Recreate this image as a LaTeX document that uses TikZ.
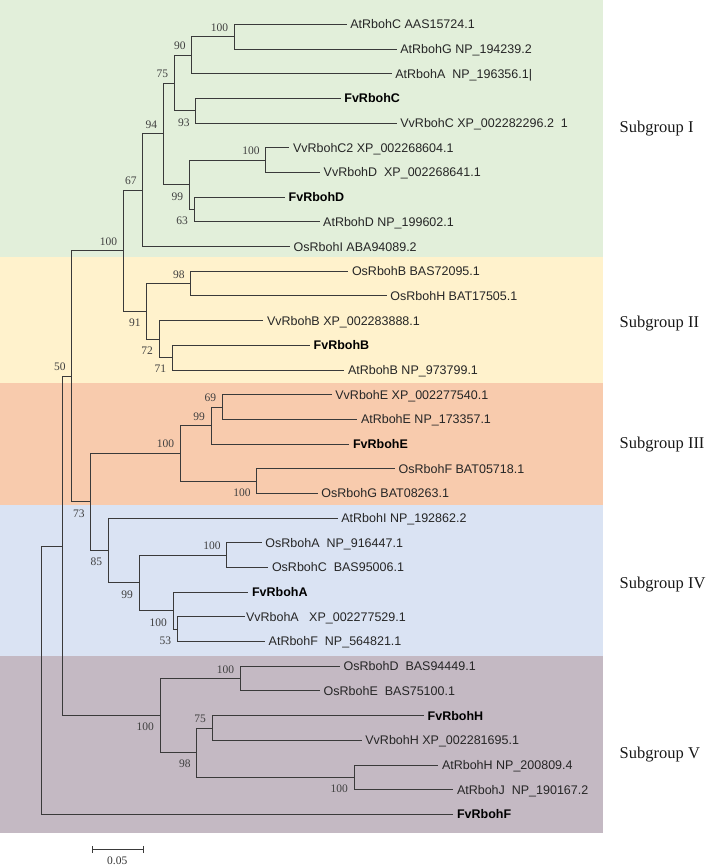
\documentclass[tikz,border=0pt]{standalone}
\usepackage{fontspec}
\setmainfont{Liberation Serif}
\setsansfont{Liberation Sans}
\usetikzlibrary{arrows.meta}
\definecolor{bgI}{HTML}{E2EFDA}
\definecolor{bgII}{HTML}{FFF2CC}
\definecolor{bgIII}{HTML}{F8CBAD}
\definecolor{bgIV}{HTML}{DAE3F3}
\definecolor{bgV}{HTML}{C4B9C3}
\definecolor{ink}{HTML}{3A3A3A}
\begin{document}
\begin{tikzpicture}[x=1pt,y=-1pt,
  branch/.style={draw=ink, line width=0.9pt},
  leaf/.style={font=\sffamily\fontsize{12.5}{14}\selectfont, text=black!85, anchor=west,
    inner xsep=3.5pt, inner ysep=0pt, text height=8.95pt, text depth=0pt},
  fvleaf/.style={leaf, font=\sffamily\bfseries\fontsize{12.5}{14}\selectfont, text=black},
  bootbase/.style={font=\fontsize{11.5}{13}\selectfont, text=black!75, anchor=east,
    inner sep=0pt, text height=7.6pt, text depth=0pt, xshift=-6pt},
  bootup/.style={bootbase, yshift=9.3pt},
  bootdown/.style={bootbase, yshift=-11.5pt},
  grouplabel/.style={font=\fontsize{16.5}{18}\selectfont, text=black!90, anchor=west,
    inner sep=0pt, text height=10.9pt, text depth=0pt}]
\useasboundingbox (0,0) rectangle (709,866);
% background bands
\fill[bgI]   (0,0)   rectangle (603,257);
\fill[bgII]  (0,257) rectangle (603,383);
\fill[bgIII] (0,383) rectangle (603,505);
\fill[bgIV]  (0,505) rectangle (603,656);
\fill[bgV]   (0,656) rectangle (603,833);
% leaves
\node[leaf]   (L0)  at (346.7,24.4)  {AtRbohC AAS15724.1};
\node[leaf]   (L1)  at (396.7,49.1)  {AtRbohG NP\_194239.2};
\node[leaf]   (L2)  at (391.7,73.8)  {AtRbohA~ NP\_196356.1|};
\node[fvleaf] (L3)  at (340.7,98.5)  {FvRbohC};
\node[leaf]   (L4)  at (396.7,123.1) {VvRbohC XP\_002282296.2~ 1};
\node[leaf]   (L5)  at (289.3,147.8) {VvRbohC2 XP\_002268604.1};
\node[leaf]   (L6)  at (320.0,172.5) {VvRbohD~ XP\_002268641.1};
\node[fvleaf] (L7)  at (285.0,197.2) {FvRbohD};
\node[leaf]   (L8)  at (319.5,221.9) {AtRbohD NP\_199602.1};
\node[leaf]   (L9)  at (290.0,246.6) {OsRbohI ABA94089.2};
\node[leaf]   (L10) at (348.3,271.3) {OsRbohB BAS72095.1};
\node[leaf]   (L11) at (386.7,295.9) {OsRbohH BAT17505.1};
\node[leaf]   (L12) at (263.3,320.6) {VvRbohB XP\_002283888.1};
\node[fvleaf] (L13) at (310.0,345.3) {FvRbohB};
\node[leaf]   (L14) at (344.3,370.0) {AtRbohB NP\_973799.1};
\node[leaf]   (L15) at (331.7,394.7) {VvRbohE XP\_002277540.1};
\node[leaf]   (L16) at (357.3,419.4) {AtRbohE NP\_173357.1};
\node[fvleaf] (L17) at (349.3,444.0) {FvRbohE};
\node[leaf]   (L18) at (395.0,468.7) {OsRbohF BAT05718.1};
\node[leaf]   (L19) at (317.7,493.4) {OsRbohG BAT08263.1};
\node[leaf]   (L20) at (337.7,518.1) {AtRbohI NP\_192862.2};
\node[leaf]   (L21) at (261.7,542.8) {OsRbohA~ NP\_916447.1};
\node[leaf]   (L22) at (268.3,567.5) {OsRbohC~ BAS95006.1};
\node[fvleaf] (L23) at (248.3,592.2) {FvRbohA};
\node[leaf, inner xsep=0.8pt] (L24) at (245.0,616.8) {VvRbohA~~ XP\_002277529.1};
\node[leaf]   (L25) at (265.0,641.5) {AtRbohF~ NP\_564821.1};
\node[leaf]   (L26) at (340.0,666.2) {OsRbohD~ BAS94449.1};
\node[leaf]   (L27) at (320.0,690.9) {OsRbohE~ BAS75100.1};
\node[fvleaf] (L28) at (424.0,715.6) {FvRbohH};
\node[leaf]   (L29) at (361.7,740.3) {VvRbohH XP\_002281695.1};
\node[leaf]   (L30) at (438.3,765.0) {AtRbohH NP\_200809.4};
\node[leaf]   (L31) at (453.3,789.6) {AtRbohJ~ NP\_190167.2};
\node[fvleaf] (L32) at (453.3,814.3) {FvRbohF};
% internal nodes
\coordinate (nCG)   at (234.3,36.75);
\coordinate (n90)   at (191.7,55.3);
\coordinate (n93)   at (195.7,110.8);
\coordinate (n75)   at (174.3,83.05);
\coordinate (nC2D)  at (265.7,160.15);
\coordinate (n63)   at (194.0,209.55);
\coordinate (n99a)  at (189.3,184.85);
\coordinate (n94)   at (163.3,133.95);
\coordinate (n67)   at (142.7,190.3);
\coordinate (n98)   at (190.7,283.6);
\coordinate (n71)   at (172.3,357.65);
\coordinate (n72)   at (159.0,339.1);
\coordinate (n91)   at (146.7,311.35);
\coordinate (n100c) at (123.3,250.8);
\coordinate (n69)   at (222.3,407.05);
\coordinate (n99b)  at (211.0,425.5);
\coordinate (n100d) at (256.7,481.05);
\coordinate (n100e) at (180.3,453.3);
\coordinate (n100f) at (226.7,555.15);
\coordinate (n53)   at (177.3,629.15);
\coordinate (n100g) at (173.0,610.7);
\coordinate (n99c)  at (139.0,582.9);
\coordinate (n85)   at (108.3,550.5);
\coordinate (n73)   at (90.7,501.9);
\coordinate (n50)   at (71.7,376.35);
\coordinate (n100h) at (240.3,678.55);
\coordinate (n75b)  at (212.0,727.95);
\coordinate (n100j) at (354.0,777.3);
\coordinate (n98b)  at (196.7,752.6);
\coordinate (n100i) at (160.0,715.6);
\coordinate (nA)    at (62.7,545.98);
\coordinate (root)  at (41.7,680.1);
% branches
\foreach \p/\c in {nCG/L0.west, nCG/L1.west, n90/nCG, n90/L2.west,
  n93/L3.west, n93/L4.west, n75/n90, n75/n93,
  nC2D/L5.west, nC2D/L6.west, n63/L7.west, n63/L8.west, n99a/nC2D, n99a/n63,
  n94/n75, n94/n99a, n67/n94, n67/L9.west,
  n98/L10.west, n98/L11.west, n71/L13.west, n71/L14.west, n72/L12.west, n72/n71,
  n91/n98, n91/n72, n100c/n67, n100c/n91,
  n69/L15.west, n69/L16.west, n99b/n69, n99b/L17.west,
  n100d/L18.west, n100d/L19.west, n100e/n99b, n100e/n100d,
  n100f/L21.west, n100f/L22.west, n53/L24.west, n53/L25.west,
  n100g/L23.west, n100g/n53, n99c/n100f, n99c/n100g,
  n85/L20.west, n85/n99c, n73/n100e, n73/n85, n50/n100c, n50/n73,
  n100h/L26.west, n100h/L27.west, n75b/L28.west, n75b/L29.west,
  n100j/L30.west, n100j/L31.west, n98b/n75b, n98b/n100j,
  n100i/n100h, n100i/n98b, nA/n50, nA/n100i, root/nA, root/L32.west}
  \draw[branch] (\p) |- (\c);
% bootstrap values
\node[bootup]   (bCG)   at (nCG)   {100};
\node[bootup]   (b90)   at (n90)   {90};
\node[bootup]   (b75)   at (n75)   {75};
\node[bootdown] (b93)   at (n93)   {93};
\node[bootup]   (b94)   at (n94)   {94};
\node[bootup]   (bC2D)  at (nC2D)  {100};
\node[bootdown] (b99a)  at (n99a)  {99};
\node[bootdown] (b63)   at (n63)   {63};
\node[bootup]   (b67)   at (n67)   {67};
\node[bootup]   (b100c) at (n100c) {100};
\node[bootup]   (b98)   at (n98)   {98};
\node[bootdown] (b91)   at (n91)   {91};
\node[bootdown] (b72)   at (n72)   {72};
\node[bootdown] (b71)   at (n71)   {71};
\node[bootup]   (b50)   at (n50)   {50};
\node[bootup]   (b69)   at (n69)   {69};
\node[bootup]   (b99b)  at (n99b)  {99};
\node[bootup]   (b100e) at (n100e) {100};
\node[bootdown] (b100d) at (n100d) {100};
\node[bootdown] (b73)   at (n73)   {73};
\node[bootdown] (b85)   at (n85)   {85};
\node[bootup]   (b100f) at (n100f) {100};
\node[bootdown] (b99c)  at (n99c)  {99};
\node[bootdown] (b100g) at (n100g) {100};
\node[bootdown] (b53)   at (n53)   {53};
\node[bootup]   (b100h) at (n100h) {100};
\node[bootdown] (b100i) at (n100i) {100};
\node[bootup]   (b75b)  at (n75b)  {75};
\node[bootdown] (b98b)  at (n98b)  {98};
\node[bootdown] (b100j) at (n100j) {100};
% subgroup labels
\node[grouplabel] (gI)   at (619.5,127.5) {Subgroup I};
\node[grouplabel] (gII)  at (619.5,322.0) {Subgroup II};
\node[grouplabel] (gIII) at (619.5,443.0) {Subgroup III};
\node[grouplabel] (gIV)  at (619.5,583.0) {Subgroup IV};
\node[grouplabel] (gV)   at (619.5,753.0) {Subgroup V};
% scale bar
\coordinate (sbL) at (92.3,849.3);
\coordinate (sbR) at (143.3,849.3);
\draw[branch, line width=0.8pt, {Bar[width=7pt]}-{Bar[width=7pt]}] (sbL) -- (sbR);
\node[font=\fontsize{11.5}{13}\selectfont, text=black!80, inner sep=0pt, text height=7.6pt, text depth=0pt]
  (sbT) at (117.3,860.5) {0.05};
\end{tikzpicture}
\end{document}
